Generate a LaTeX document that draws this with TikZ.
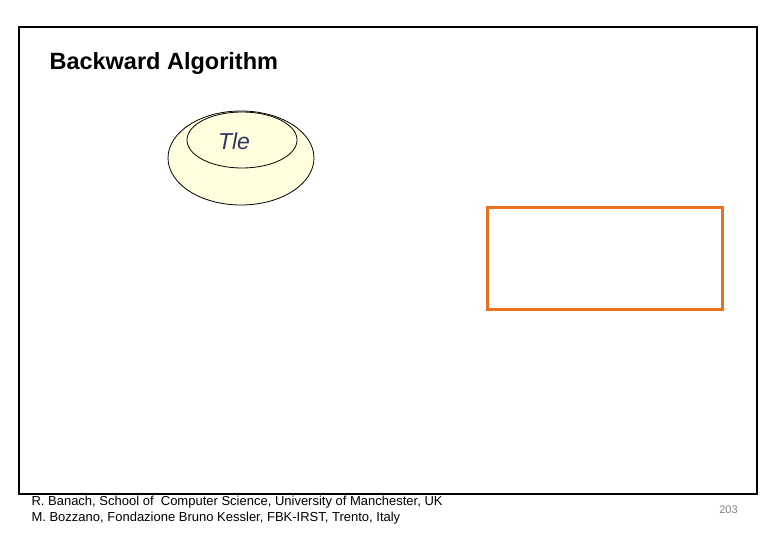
\documentclass[tikz,border=0pt]{standalone}
\usepackage{fontspec}
\setmainfont{Liberation Sans}
\usepackage{tikz}
\usetikzlibrary{shapes.geometric}

\definecolor{paleyellow}{HTML}{FFFFE0}
\definecolor{boxorange}{HTML}{E8701E}
\definecolor{labelblue}{HTML}{333366}

\begin{document}
\begin{tikzpicture}[x=1pt,y=-1pt]
      \useasboundingbox (0,0) rectangle (780,540);
      \node [draw, line width=2pt, minimum width=738pt, minimum height=467pt, inner sep=0pt] (frame) at (388,260.5) {};
      \node [anchor=west, font=\bfseries\fontsize{23.5}{26}\selectfont] (title) at (46,63) {Backward Algorithm};

      \begin{scope}[every node/.style={ellipse, draw, fill=paleyellow, inner sep=0pt, thick}]
        \node (outer) [minimum width=146pt, minimum height=94pt] at (241,158) {};
        \node (inner) [minimum width=110pt, minimum height=56pt] at (242,140) {};
      \end{scope}
      \node [font=\itshape\fontsize{23}{26}\selectfont, text=labelblue] (tle) at (234,141) {Tle};

      \node [draw=boxorange, line width=3pt, minimum width=235pt, minimum height=102pt] (box) at (604.5,259) {};

      \begin{scope}[every node/.style={anchor=west, font=\fontsize{13}{15}\selectfont}]
        \node (credit1) at (28,502) {R. Banach, School of\ \ Computer Science, University of Manchester, UK};
        \node (credit2) at (28,518) {M. Bozzano, Fondazione Bruno Kessler, FBK-IRST, Trento, Italy};
      \end{scope}
      \node [font=\fontsize{11}{13}\selectfont, text=gray] (page) at (728.5,510) {203};
   \end{tikzpicture}
\end{document}
